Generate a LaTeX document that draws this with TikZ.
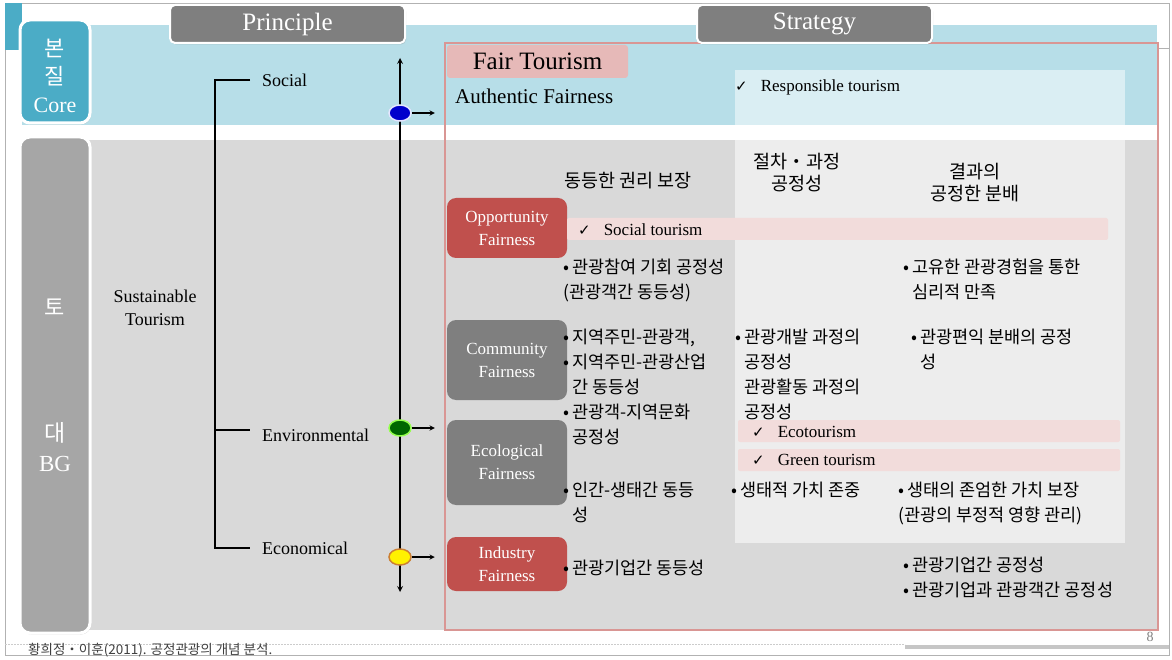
\documentclass[tikz,border=0pt]{standalone}
\usepackage{fontspec}
\setmainfont{Liberation Serif}
\newfontfamily\kr{Noto Sans CJK KR}
\newfontfamily\sym{DejaVu Sans}
\usetikzlibrary{shapes.geometric,shadows}
\definecolor{coreteal}{HTML}{4BACC6}
\definecolor{coreband}{HTML}{B7DEE8}
\definecolor{paleblue}{HTML}{DAEEF3}
\definecolor{bgband}{HTML}{D9D9D9}
\definecolor{midcol}{HTML}{EDEDED}
\definecolor{bgside}{HTML}{A6A6A6}
\definecolor{hdrgray}{HTML}{7F7F7F}
\definecolor{redbox}{HTML}{C0504D}
\definecolor{greybox}{HTML}{7F7F7F}
\definecolor{pinkbar}{HTML}{F2DCDB}
\definecolor{fairpink}{HTML}{E6B9B8}
\definecolor{framepink}{HTML}{D99694}
\newcommand{\chk}{{\sym\fontsize{15}{15}\selectfont ✓}\hspace{13pt}}
\newcommand{\indbl}{\hphantom{•\,}}
\begin{document}
\begin{tikzpicture}[x=1pt,y=-1pt,>=stealth,
	lbl/.style={anchor=west,inner sep=0pt,font=\fontsize{18}{23}\selectfont},
	kor/.style={anchor=north west,inner sep=0pt,align=left,font=\kr\fontsize{17.5}{25}\selectfont},
	colhead/.style={inner sep=0pt,align=center,font=\kr\fontsize{18.5}{22}\selectfont},
	checkline/.style={anchor=west,inner sep=0pt,font=\fontsize{17}{17}\selectfont},
	fairbox/.style={rounded corners=9pt,minimum width=120pt,inner sep=0pt,text=white,align=center,font=\fontsize{17}{23}\selectfont},
	tabhdr/.style={fill=hdrgray,draw=white,line width=2pt,rounded corners=5pt,minimum width=235pt,minimum height=38pt,text=white,font=\fontsize{25}{25}\selectfont,drop shadow={opacity=.3,shadow xshift=1pt,shadow yshift=-1.5pt}},
	sidebox/.style={draw=white,line width=3pt,rounded corners=10pt,minimum width=70pt,drop shadow={opacity=.3,shadow xshift=1pt,shadow yshift=-1.5pt}},
	sidetxt/.style={text=white,inner sep=0pt,align=center,font=\fontsize{22}{28}\selectfont},
	ball/.style={ellipse,minimum width=22pt,minimum height=16pt,inner sep=0pt,line width=1.5pt}]
	\useasboundingbox (0,0) rectangle (1172,660);
	% page and bands
	\fill[white] (0,0) rectangle (1172,660);
	\draw[gray!60,line width=.8pt] (5,3) rectangle (1169,655);
	\draw[gray!60,line width=.8pt] (1158,48) -- (1169,48);
	\fill[coreteal] (5,3) rectangle (22,50);
	\fill[coreband] (22,25) rectangle (1157,125);
	\fill[bgband] (22,140) rectangle (1158,630);
	\fill[midcol] (735,140) rectangle (1125,543);
	\fill[paleblue] (735,70) rectangle (1125,125);
	% side labels
	\node[sidebox,fill=coreteal,minimum height=103pt] (core) at (55,71.5) {};
	\node[sidetxt] (coretxt) at (55,76) {{\kr 본}\\{\kr 질}\\Core};
	\node[sidebox,fill=bgside,minimum height=496pt] (bg) at (55,385) {};
	\node[sidetxt] (bgto) at (55,307) {\kr 토};
	\node[sidetxt,font=\fontsize{23}{30}\selectfont] (bgdae) at (55,447) {{\kr 대}\\BG};
	% strategy frame
	\draw[framepink,line width=1.8pt] (445,43) rectangle (1158,630);
	\node[tabhdr] (principle) at (287.5,24) {Principle};
	\node[tabhdr] (strategy) at (814.5,24) {Strategy};
	\node[fill=fairpink,rounded corners=3pt,minimum width=181pt,minimum height=33pt,inner sep=0pt,font=\fontsize{25}{25}\selectfont] (fair) at (537.5,61.5) {Fair Tourism};
	\node[lbl,font=\fontsize{21}{21}\selectfont] (authentic) at (455,96) {Authentic Fairness};
	\node[checkline] (resp) at (735,87) {\chk Responsible tourism};
	% principle tree
	\node[lbl] (soc) at (262,80) {Social};
	\node[lbl] (env) at (262,435) {Environmental};
	\node[lbl] (eco) at (262,548) {Economical};
	\node[lbl,anchor=center,align=center] (sust) at (155,308) {Sustainable\\Tourism};
	\draw[line width=1.6pt] ([xshift=-12pt]soc.west) -| ([xshift=-47pt]eco.west) -- ([xshift=-12pt]eco.west);
	\draw[line width=1.6pt] ([xshift=-47pt,yshift=5pt]env.west) -- ([xshift=-12pt,yshift=5pt]env.west);
	% axis with the three points
	\coordinate (axtop) at (400,58);
	\coordinate (axbot) at (400,592);
	\draw[<->,line width=1.6pt] (axtop) -- (axbot);
	\node[ball,fill=blue!80!black,draw=blue!10] (bdot) at (400,113) {};
	\node[ball,fill=green!40!black,draw=green!60!yellow!70] (gdot) at (400,428) {};
	\node[ball,fill=yellow,draw=brown!80!orange] (ydot) at (400,557) {};
	\foreach \d in {bdot,gdot,ydot}
		\draw[->,line width=1.3pt] (\d.east) -- ++(23,0);
	% fairness rows
	\node[fairbox,fill=redbox,minimum height=60pt] (opp) at (507,228) {Opportunity\\Fairness};
	\node[fairbox,fill=greybox,minimum height=80pt] (com) at (507,360) {Community\\Fairness};
	\node[fairbox,fill=greybox,minimum height=85pt] (ecol) at (507,462.5) {Ecological\\Fairness};
	\node[fairbox,fill=redbox,minimum height=54pt] (ind) at (507,564) {Industry\\Fairness};
	\fill[pinkbar,rounded corners=2pt] (567,218) rectangle (1108,240);
	\fill[pinkbar,rounded corners=2pt] (738,420) rectangle (1120,442);
	\fill[pinkbar,rounded corners=2pt] (738,449) rectangle (1120,471);
	\node[checkline] (soct) at (578,230) {\chk Social tourism};
	\node[checkline] (ecot) at (752,432) {\chk Ecotourism};
	\node[checkline] (greent) at (752,460) {\chk Green tourism};
	% column heads
	\node[colhead] (h1) at (628,181) {동등한 권리 보장};
	\node[colhead] (h2) at (797,173) {절차・과정\\공정성};
	\node[colhead] (h3) at (975,182.5) {결과의\\공정한 분배};
	% cells
	\node[kor] (o1) at (563,259) {•\,관광참여 기회 공정성\\(관광객간 동등성)};
	\node[kor] (o3) at (903,259) {•\,고유한 관광경험을 통한\\\indbl 심리적 만족};
	\node[kor] (c1) at (563,329) {•\,지역주민-관광객,\\•\,지역주민-관광산업\\\indbl 간 동등성\\•\,관광객-지역문화\\\indbl 공정성};
	\node[kor] (c2) at (735,329) {•\,관광개발 과정의\\\indbl 공정성\\\indbl 관광활동 과정의\\\indbl 공정성};
	\node[kor] (c3) at (911,329) {•\,관광편익 분배의 공정\\\indbl 성};
	\node[kor] (e1) at (563,482) {•\,인간-생태간 동등\\\indbl 성};
	\node[kor] (e2) at (731,482) {•\,생태적 가치 존중};
	\node[kor] (e3) at (898,482) {•\,생태의 존엄한 가치 보장\\(관광의 부정적 영향 관리)};
	\node[kor] (i1) at (563,560) {•\,관광기업간 동등성};
	\node[kor] (i3) at (903,557) {•\,관광기업간 공정성\\•\,관광기업과 관광객간 공정성};
	% footer
	\draw[gray!40,dash pattern=on 2pt off 1pt] (5,644) -- (905,644);
	\draw[gray!45,line width=4pt] (905,647) -- (1169,647);
	\node[anchor=west,inner sep=0pt,text=black!75,font=\kr\fontsize{13.5}{13.5}\selectfont] (cite) at (28,650) {황희정・이훈(2011). 공정관광의 개념 분석.};
	\node[text=gray,inner sep=0pt,font=\fontsize{14}{14}\selectfont] (pg) at (1150,637) {8};
\end{tikzpicture}
\end{document}
